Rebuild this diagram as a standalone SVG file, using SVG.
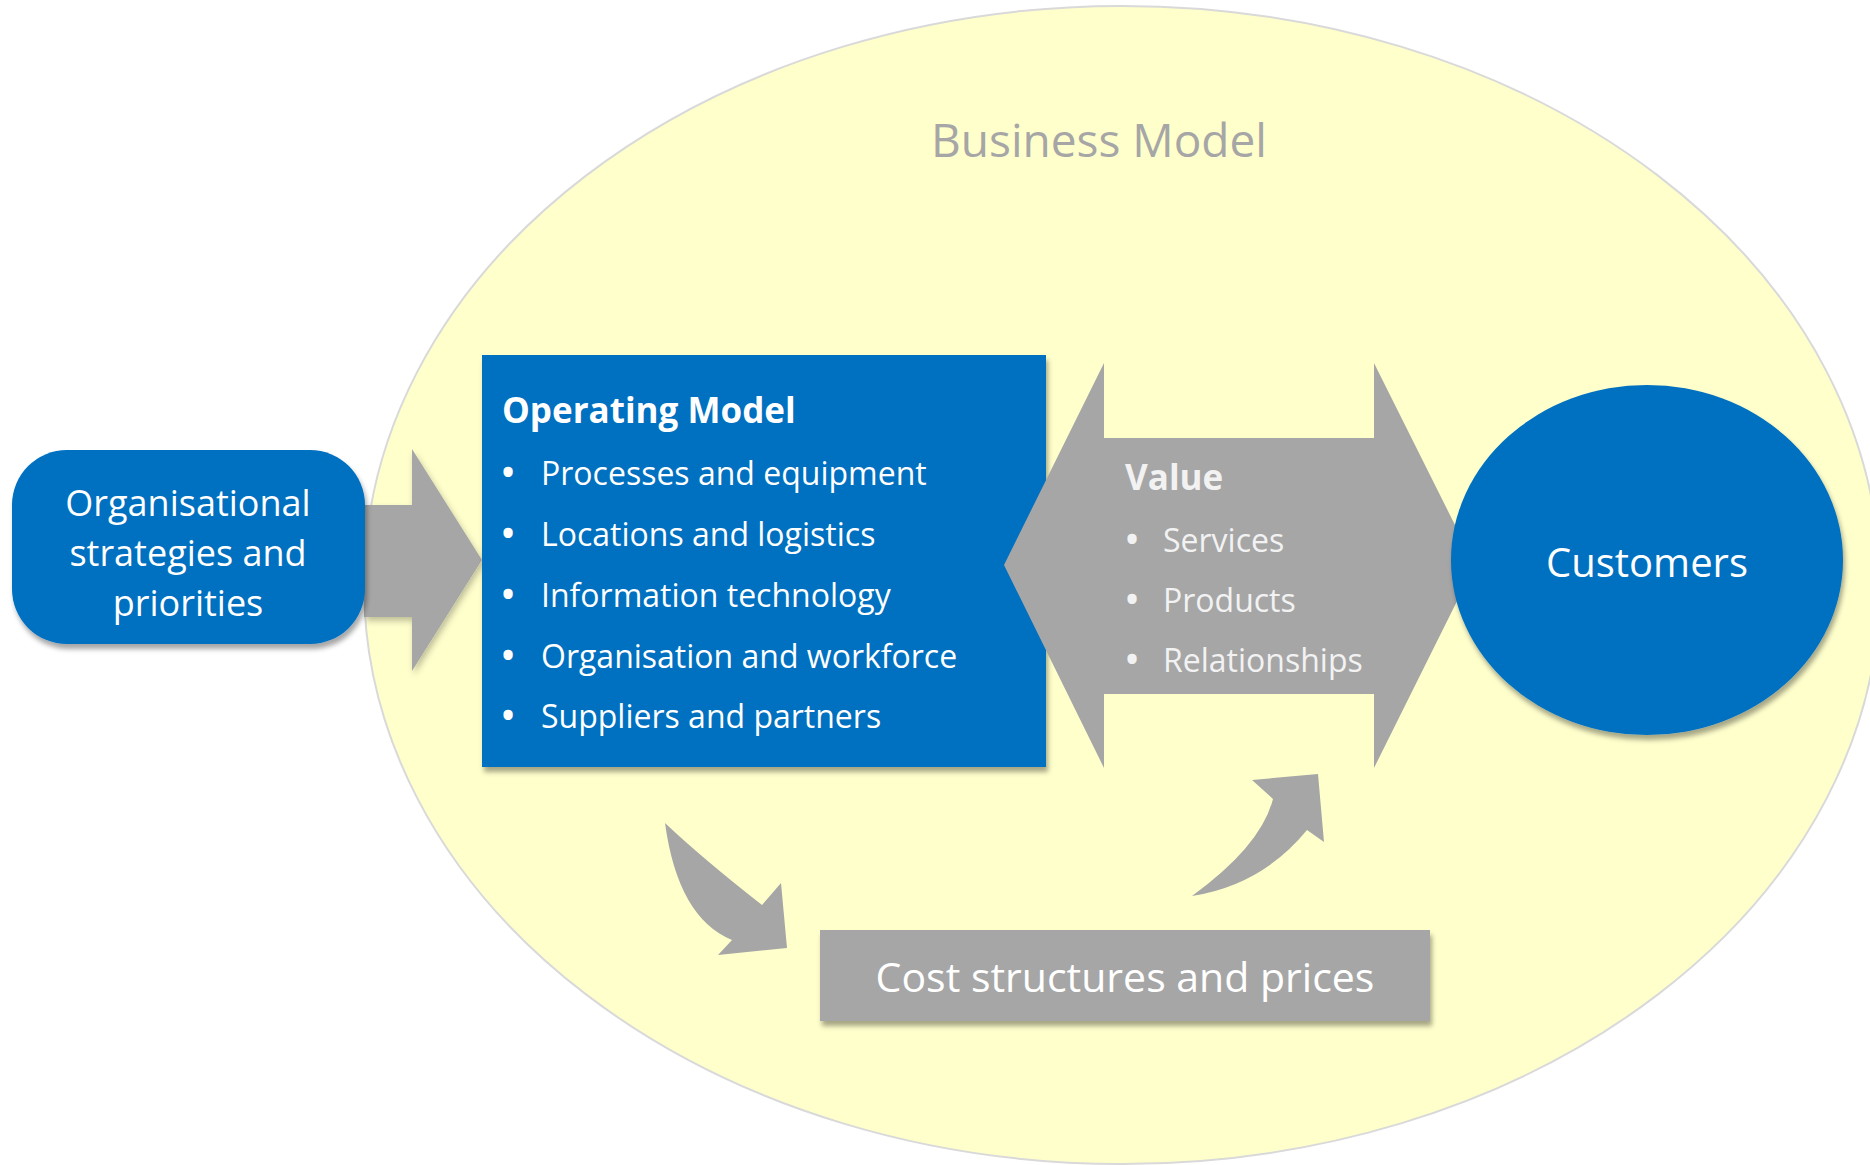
<svg xmlns="http://www.w3.org/2000/svg" width="1870" height="1165" viewBox="0 0 1870 1165">
  <defs>
    <filter id="shadow" x="-10%" y="-10%" width="130%" height="130%">
      <feDropShadow dx="2" dy="5" stdDeviation="2.5" flood-color="#000" flood-opacity="0.35"/>
    </filter>
    <filter id="shadowSoft" x="-10%" y="-10%" width="130%" height="130%">
      <feDropShadow dx="2" dy="4" stdDeviation="3" flood-color="#000" flood-opacity="0.25"/>
    </filter>
  </defs>
  <style>
    .blue { fill: #0070C0; }
    .gray { fill: #A6A6A6; }
    .txt { font-family: "Open Sans", "Noto Sans", "Liberation Sans", sans-serif; fill: #FFFFFF; }
    .bold { font-weight: bold; }
    .item { font-size: 32px; }
    .bul { font-size: 44px; }
    .vtxt { fill: #F2F2F2; }
  </style>
  <rect width="1870" height="1165" fill="#FFFFFF"/>

  <g id="business-model">
    <ellipse cx="1122" cy="585" rx="758" ry="579" fill="#FFFFCC" stroke="#D9D9D9" stroke-width="2"/>
    <text x="1099" y="157" text-anchor="middle" class="txt" style="fill:#A6A6A6;font-size:46px">Business Model</text>
  </g>

  <g id="connectors">
    <path id="arrow-org-to-operating" class="gray" filter="url(#shadowSoft)" d="M364,505 L412,505 L412,449 L482,560 L412,671 L412,617 L364,617 Z"/>
    <path id="arrow-operating-to-cost" class="gray" d="M665,823 Q678,918 732,940 L718,955 L787,948 L781,883 L762,905 Q702,858 665,823 Z"/>
    <path id="arrow-cost-to-value" class="gray" d="M1192,896 Q1262,885 1307,830 L1324,842 L1318,774 L1252,780 L1273,799 Q1261,846 1192,896 Z"/>
  </g>

  <g id="org-strategies">
    <rect x="12" y="450" width="353" height="194" rx="55" ry="55" class="blue" filter="url(#shadow)"/>
    <text x="188" y="516" text-anchor="middle" class="txt" style="font-size:36px">Organisational</text>
    <text x="188" y="566" text-anchor="middle" class="txt" style="font-size:36px">strategies and</text>
    <text x="188" y="616" text-anchor="middle" class="txt" style="font-size:36px">priorities</text>
  </g>

  <g id="operating-model">
    <rect x="482" y="355" width="564" height="412" class="blue" filter="url(#shadow)"/>
    <text x="502" y="423" class="txt bold" style="font-size:35px">Operating Model</text>
    <g class="txt item">
      <text x="508" y="488" text-anchor="middle" class="bul">•</text><text x="541" y="485">Processes and equipment</text>
      <text x="508" y="549" text-anchor="middle" class="bul">•</text><text x="541" y="546">Locations and logistics</text>
      <text x="508" y="610" text-anchor="middle" class="bul">•</text><text x="541" y="607">Information technology</text>
      <text x="508" y="671" text-anchor="middle" class="bul">•</text><text x="541" y="668">Organisation and workforce</text>
      <text x="508" y="731" text-anchor="middle" class="bul">•</text><text x="541" y="728">Suppliers and partners</text>
    </g>
  </g>

  <g id="value">
    <path class="gray" d="M1004,565 L1104,363 L1104,438 L1374,438 L1374,363 L1475,565 L1374,768 L1374,694 L1104,694 L1104,768 Z"/>
    <text x="1125" y="490" class="txt bold vtxt" style="font-size:35px">Value</text>
    <g class="txt vtxt item">
      <text x="1132" y="555" text-anchor="middle" class="bul">•</text><text x="1163" y="552">Services</text>
      <text x="1132" y="615" text-anchor="middle" class="bul">•</text><text x="1163" y="612">Products</text>
      <text x="1132" y="675" text-anchor="middle" class="bul">•</text><text x="1163" y="672">Relationships</text>
    </g>
  </g>

  <g id="customers">
    <ellipse cx="1647" cy="560" rx="196" ry="175" class="blue" filter="url(#shadow)"/>
    <text x="1647" y="577" text-anchor="middle" class="txt" style="font-size:40px">Customers</text>
  </g>

  <g id="cost-structures">
    <rect x="820" y="930" width="610" height="91" class="gray" filter="url(#shadow)"/>
    <text x="1125" y="992" text-anchor="middle" class="txt" style="font-size:41px">Cost structures and prices</text>
  </g>
</svg>
